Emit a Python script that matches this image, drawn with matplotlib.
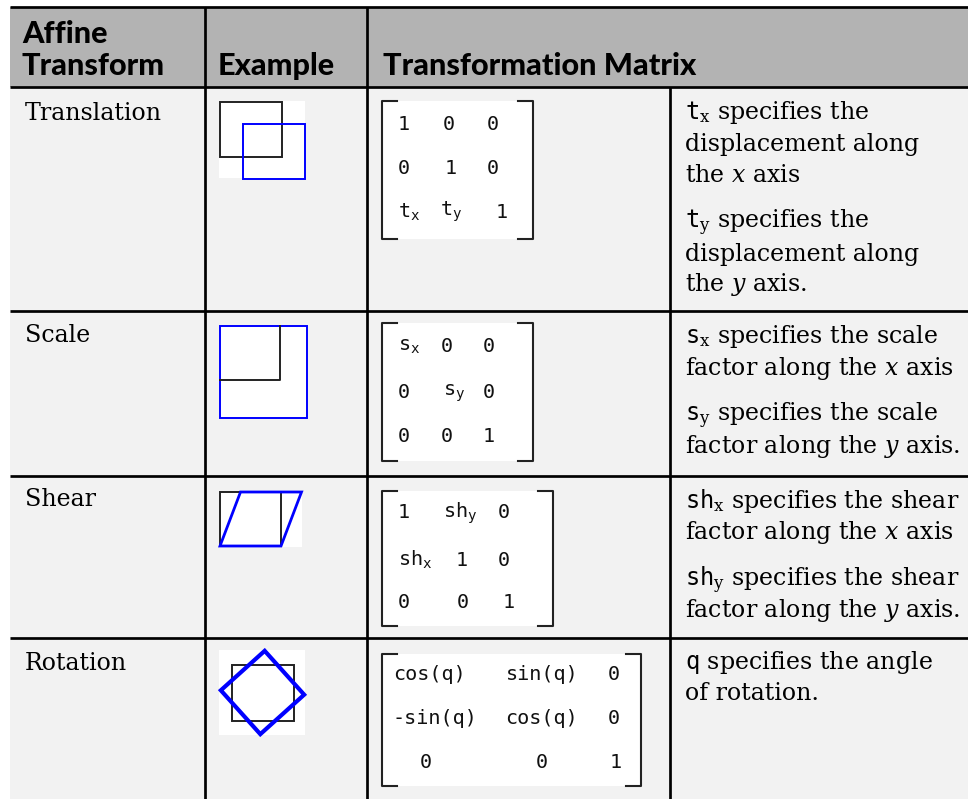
import numpy as np
import matplotlib
matplotlib.use("Agg")
import matplotlib.pyplot as plt
from matplotlib.patches import Rectangle, Polygon

plt.rcParams['mathtext.fontset'] = 'custom'
plt.rcParams['mathtext.rm'] = 'DejaVu Serif'
plt.rcParams['mathtext.it'] = 'DejaVu Serif:italic'
plt.rcParams['mathtext.tt'] = 'DejaVu Sans Mono'

# ---------------- data ----------------
headers = ["Affine\nTransform", "Example", "Transformation Matrix"]
transforms = ["Translation", "Scale", "Shear", "Rotation"]

translation_matrix = [["1", "0", "0"],
                      ["0", "1", "0"],
                      [r"$\mathtt{t}_{\mathtt{x}}$", r"$\mathtt{t}_{\mathtt{y}}$", "1"]]
scale_matrix = [[r"$\mathtt{s}_{\mathtt{x}}$", "0", "0"],
                ["0", r"$\mathtt{s}_{\mathtt{y}}$", "0"],
                ["0", "0", "1"]]
shear_matrix = [["1", r"$\mathtt{sh}_{\mathtt{y}}$", "0"],
                [r"$\mathtt{sh}_{\mathtt{x}}$", "1", "0"],
                ["0", "0", "1"]]
rotation_matrix = [["cos(q)", "sin(q)", "0"],
                   ["-sin(q)", "cos(q)", "0"],
                   ["0", "0", "1"]]
matrices = [translation_matrix, scale_matrix, shear_matrix, rotation_matrix]

translation_desc = [r"$\mathtt{t}_\mathrm{x}$ specifies the", "displacement along", "the $x$ axis", None,
                    r"$\mathtt{t}_\mathrm{y}$ specifies the", "displacement along", "the $y$ axis."]
scale_desc = [r"$\mathtt{s}_\mathrm{x}$ specifies the scale", "factor along the $x$ axis", None,
              r"$\mathtt{s}_\mathrm{y}$ specifies the scale", "factor along the $y$ axis."]
shear_desc = [r"$\mathtt{sh}_\mathrm{x}$ specifies the shear", "factor along the $x$ axis", None,
              r"$\mathtt{sh}_\mathrm{y}$ specifies the shear", "factor along the $y$ axis."]
rotation_desc = [r"$\mathtt{q}$ specifies the angle", "of rotation."]
descriptions = [translation_desc, scale_desc, shear_desc, rotation_desc]

# example transform parameters (pixels / factors / degrees)
translate_t = (23, 22)
scale_s = (1.43, 1.69)
shear_sh = 0.38
rotate_deg = 48

# ---------------- layout (pixel coordinates) ----------------
W, H = 968, 799
fig = plt.figure(figsize=(W / 100, H / 100), dpi=100)
ax = fig.add_axes([0, 0, 1, 1])
ax.set_xlim(0, W)
ax.set_ylim(H, 0)
ax.axis('off')
renderer = fig.canvas.get_renderer()

LW = 1.5
left, right = 10, W
top, head_bot = 7, 87
row_edges = [87, 311, 476, 638, 799]
col_edges = [205, 367, 670]

HEAD_BG = "#b3b3b3"
BODY_BG = "#f2f2f2"

ax.add_patch(Rectangle((left, top), right - left, head_bot - top, facecolor=HEAD_BG, edgecolor='none'))
ax.add_patch(Rectangle((left, head_bot), right - left, H - head_bot, facecolor=BODY_BG, edgecolor='none'))
for y in [top] + row_edges[:-1]:
    ax.plot([left, right], [y, y], color='black', lw=LW * 1.3, solid_capstyle='butt')
for x in col_edges[:2]:
    ax.plot([x, x], [top, H], color='black', lw=LW * 1.3, solid_capstyle='butt')
ax.plot([col_edges[2], col_edges[2]], [head_bot, H], color='black', lw=LW * 1.3, solid_capstyle='butt')


def fit_size(text, family, target_px, weight='normal', style='normal', base=14):
    t = ax.text(0, 0, text, fontsize=base, family=family, weight=weight, style=style)
    w = t.get_window_extent(renderer).width
    t.remove()
    return base * target_px / w


HEAD_FAMILY = ['Lato', 'DejaVu Sans']
SERIF = ['DejaVu Serif']
MONO = ['DejaVu Sans Mono']
head_size = fit_size("Transformation Matrix", HEAD_FAMILY, 314, weight='black')
serif_size = fit_size("displacement along", SERIF, 236)
mono_size = 14.5

# headers
ax.text(22, 34, "Affine", fontsize=head_size, family=HEAD_FAMILY, weight='black', va='center', ha='left')
ax.text(22, 66, "Transform", fontsize=head_size, family=HEAD_FAMILY, weight='black', va='center', ha='left')
ax.text(218, 66, headers[1], fontsize=head_size, family=HEAD_FAMILY, weight='black', va='center', ha='left')
ax.text(383, 66, headers[2], fontsize=head_size, family=HEAD_FAMILY, weight='black', va='center', ha='left')

# row labels
label_y = [113, 336, 499, 663]
for name, y in zip(transforms, label_y):
    ax.text(25, y, name, fontsize=serif_size, family=SERIF, va='center', ha='left')

# descriptions
desc_start = [113, 337, 501, 663]
for lines, y0 in zip(descriptions, desc_start):
    y = y0
    for ln in lines:
        if ln is None:
            y += 17
            continue
        ax.text(685, y, ln, fontsize=serif_size, family=SERIF, va='center', ha='left')
        y += 31

# ---------------- examples ----------------
BLUE = "#0000ff"
BLACK = "#222222"


def unit_square(w, h):
    return np.array([[0, 0], [w, 0], [w, h], [0, h]], dtype=float)


def draw_poly(pts, color, lw):
    ax.add_patch(Polygon(pts, closed=True, fill=False, edgecolor=color, lw=lw, joinstyle='miter'))


# image white boxes: (x0, y0, x1, y1)
example_boxes = [(219, 101, 305, 178), (219, 325, 307, 418), (219, 491, 302, 547), (219, 650, 305, 735)]
for (x0, y0, x1, y1) in example_boxes:
    ax.add_patch(Rectangle((x0, y0), x1 - x0, y1 - y0, facecolor='white', edgecolor='none'))

# Translation (y downward in pixel space)
sq = unit_square(62, 55) + [220, 102]
draw_poly(sq, BLACK, 1.4)
draw_poly(sq + np.array(translate_t), BLUE, 1.4)

# Scale: anchored at top-left
sq = unit_square(61, 55)
draw_poly(sq * np.array(scale_s) + [220, 325.5], BLUE, 1.4)
ax.plot([220, 280, 280], [380, 380, 325.5], color=BLACK, lw=1.4)

# Shear: bottom edge fixed, top shifted right
sq = unit_square(61, 54)
origin = np.array([220, 492])
draw_poly(sq + origin, BLACK, 1.4)
h = 54
sheared = np.array([[p[0] + shear_sh * (h - p[1]), p[1]] for p in sq])
draw_poly(sheared + origin, BLUE, 2.0)

# Rotation: about center
center = np.array([262.5, 692.5])
sq = unit_square(62, 56) - [31, 28]
draw_poly(sq + center, BLACK, 1.4)
side = 59
rsq = unit_square(side, side) - side / 2
th = np.deg2rad(rotate_deg)
R = np.array([[np.cos(th), -np.sin(th)], [np.sin(th), np.cos(th)]])
draw_poly(rsq @ R.T + center, BLUE, 3.0)

# ---------------- matrices ----------------
matrix_boxes = [(382, 533, 101, 239), (382, 533, 323, 461), (382, 553, 491, 626), (382, 641, 654, 786)]
row_ys = [[125, 168, 212], [347, 393, 437], [513, 560, 603], [675, 718, 762]]
col_xs = [
    [[398, 443, 487], [398, 445, 487], [398, 440, 496]],
    [[398, 441, 483], [398, 443, 483], [398, 441, 483]],
    [[398, 443, 498], [398, 456, 498], [398, 457, 503]],
    [[393, 506, 608], [393, 505, 608], [420, 536, 610]],
]
for m, box, ys, xs in zip(matrices, matrix_boxes, row_ys, col_xs):
    xl, xr, yt, yb = box
    ax.add_patch(Rectangle((xl, yt), xr - xl, yb - yt, facecolor='white', edgecolor='none'))
    tick = 15
    ax.plot([xl + tick, xl, xl, xl + tick], [yt, yt, yb, yb], color=BLACK, lw=1.5)
    ax.plot([xr - tick, xr, xr, xr - tick], [yt, yt, yb, yb], color=BLACK, lw=1.5)
    for r in range(3):
        for c in range(3):
            ax.text(xs[r][c], ys[r], m[r][c], fontsize=mono_size, family=MONO,
                    va='center', ha='left', color='#111111')

fig.savefig("out.png", dpi=100, facecolor='white')
